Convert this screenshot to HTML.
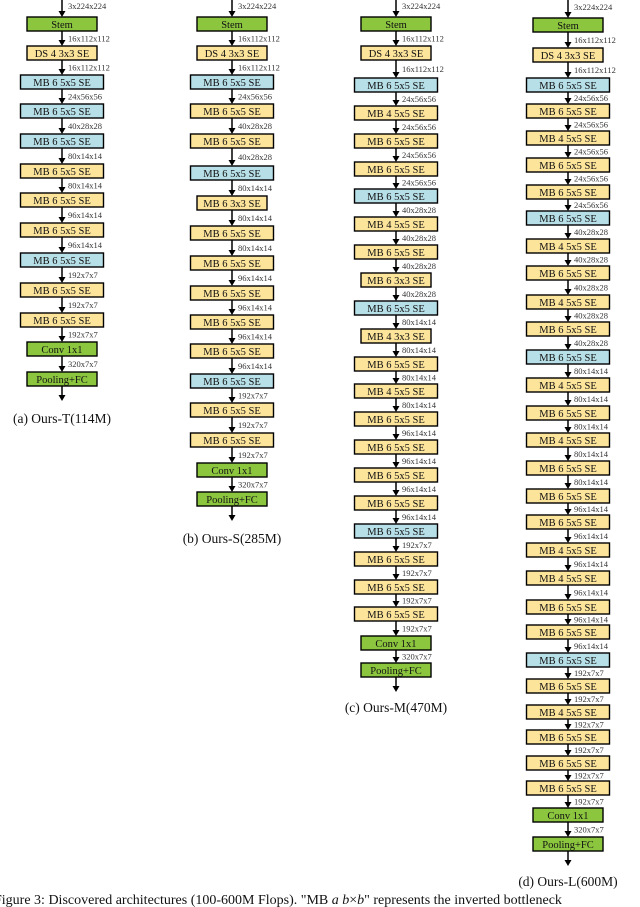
<!DOCTYPE html>
<html><head><meta charset="utf-8"><style>
html,body{margin:0;padding:0;background:#fff;width:640px;height:907px;overflow:hidden}
svg text{font-family:"Liberation Serif",serif}
</style></head><body>
<svg id="s" width="640" height="907" xmlns="http://www.w3.org/2000/svg"></svg>
<script>
var G='#8cc63f',Y='#fde49b',B='#b7dfe8';
function col(cx,blocks,labels,cap,capy){
 var s='',H=14;
 var prevBottom=0;
 for(var i=0;i<blocks.length;i++){
  var b=blocks[i],y=b[0],t=b[1],c=b[2],w=b[3]||83;
  var top=y-H/2;
  s+='<line x1="'+cx+'" y1="'+prevBottom+'" x2="'+cx+'" y2="'+(top-5)+'" stroke="#000" stroke-width="1.5"/>';
  s+='<polygon points="'+(cx-3.5)+','+(top-6)+' '+(cx+3.5)+','+(top-6)+' '+cx+','+top+'" fill="#000"/>';
  var ly=(prevBottom+top)/2+3; if(i==0) ly=top-8;
  s+='<text x="'+(cx+6)+'" y="'+ly+'" font-size="8.5" fill="#333">'+labels[i]+'</text>';
  s+='<rect x="'+(cx-w/2)+'" y="'+top+'" width="'+w+'" height="'+H+'" fill="'+c+'" stroke="#000" stroke-width="1.4"/>';
  s+='<text x="'+cx+'" y="'+(y+3.8)+'" font-size="10.5" text-anchor="middle" fill="#111">'+t+'</text>';
  prevBottom=y+H/2;
 }
 s+='<line x1="'+cx+'" y1="'+prevBottom+'" x2="'+cx+'" y2="'+(prevBottom+10)+'" stroke="#000" stroke-width="1.5"/>';
 s+='<polygon points="'+(cx-3.5)+','+(prevBottom+9)+' '+(cx+3.5)+','+(prevBottom+9)+' '+cx+','+(prevBottom+15)+'" fill="#000"/>';
 s+='<text x="'+cx+'" y="'+capy+'" font-size="13.5" text-anchor="middle" fill="#111">'+cap+'</text>';
 return s;
}
function mb(y,e,k,c){return [y,'MB '+e+' '+k+'x'+k+' SE',c,k==3?70:83];}
function head(){return [[24,'Stem',G,70],[53,'DS 4 3x3 SE',Y,70]];}
function tail(a,b){return [[a,'Conv 1x1',G,70],[b,'Pooling+FC',G,70]];}
function rep(a){var r=[];a.forEach(function(x){r=r.concat(Array(x[1]).fill(x[0]))});return r;}
var out='';
var A=head().concat([mb(82,6,5,B),mb(111,6,5,B),mb(141,6,5,B),mb(171,6,5,Y),mb(200,6,5,Y),mb(230,6,5,Y),mb(260,6,5,B),mb(290,6,5,Y),mb(320,6,5,Y)]).concat(tail(349,379));
var LA=['3x224x224','16x112x112','16x112x112','24x56x56','40x28x28','80x14x14','80x14x14','96x14x14','96x14x14','192x7x7','192x7x7','192x7x7','320x7x7'];
out+=col(62,A,LA,'(a) Ours-T(114M)',423);
var Bb=head().concat([mb(82,6,5,B),mb(111,6,5,Y),mb(141,6,5,Y),mb(173,6,5,B),mb(203,6,3,Y),mb(233,6,5,Y),mb(263,6,5,Y),mb(293,6,5,Y),mb(322,6,5,Y),mb(351,6,5,Y),mb(381,6,5,B),mb(410,6,5,Y),mb(440,6,5,Y)]).concat(tail(470,499));
var LB=['3x224x224','16x112x112','16x112x112','24x56x56','40x28x28','40x28x28','80x14x14','80x14x14','80x14x14','96x14x14','96x14x14','96x14x14','96x14x14','192x7x7','192x7x7','192x7x7','320x7x7'];
out+=col(232,Bb,LB,'(b) Ours-S(285M)',543);
var C=head().concat([mb(85,6,5,B),mb(113,4,5,Y),mb(141,6,5,Y),mb(169,6,5,Y),mb(196,6,5,B),mb(224,4,5,Y),mb(252,6,5,Y),mb(280,6,3,Y),mb(308,6,5,B),mb(336,4,3,Y),mb(364,6,5,Y),mb(391,4,5,Y),mb(419,6,5,Y),mb(447,6,5,Y),mb(475,6,5,Y),mb(503,6,5,Y),mb(531,6,5,B),mb(559,6,5,Y),mb(587,6,5,Y),mb(614,6,5,Y)]).concat(tail(643,670));
var LC=['3x224x224','16x112x112','16x112x112'].concat(rep([['24x56x56',4],['40x28x28',4],['80x14x14',4],['96x14x14',4],['192x7x7',4],['320x7x7',1]]));
out+=col(396,C,LC,'(c) Ours-M(470M)',712);
var D=head().concat([mb(85,6,5,B),mb(111,6,5,Y),mb(138,4,5,Y),mb(165,6,5,Y),mb(192,6,5,Y),mb(218,6,5,B),mb(246,4,5,Y),mb(273,6,5,Y),mb(302,4,5,Y),mb(329,6,5,Y),mb(357,6,5,B),mb(385,4,5,Y),mb(413,6,5,Y),mb(440,4,5,Y),mb(468,6,5,Y),mb(496,6,5,Y),mb(522,6,5,Y),mb(550,4,5,Y),mb(578,4,5,Y),mb(607,6,5,Y),mb(632,6,5,Y),mb(660,6,5,B),mb(686,6,5,Y),mb(712,4,5,Y),mb(737,6,5,Y),mb(763,6,5,Y),mb(788,6,5,Y)]).concat(tail(815,844));
D[0][0]=25;D[1][0]=55;
var LD=['3x224x224','16x112x112','16x112x112'].concat(rep([['24x56x56',5],['40x28x28',5],['80x14x14',5],['96x14x14',6],['192x7x7',6],['320x7x7',1]]));
out+=col(568,D,LD,'(d) Ours-L(600M)',886);
out+='<text x="-6" y="904" font-size="14" fill="#111">Figure 3: Discovered architectures (100-600M Flops). "MB <tspan font-style="italic">a</tspan> <tspan font-style="italic">b</tspan>×<tspan font-style="italic">b</tspan>" represents the inverted bottleneck</text>';
document.getElementById('s').innerHTML=out;
</script>
</body></html>
